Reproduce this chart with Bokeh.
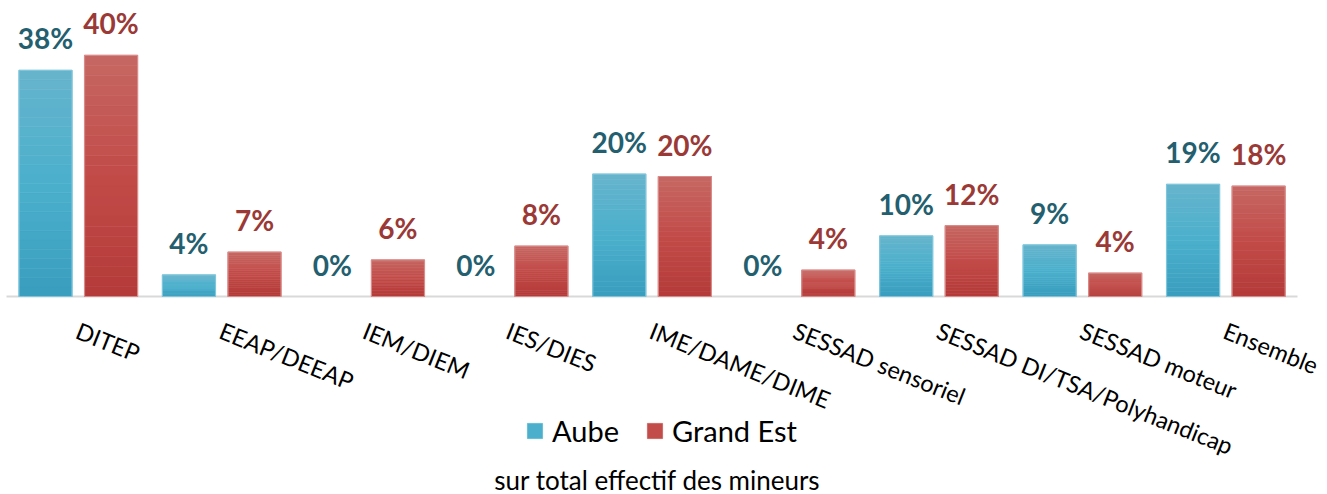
from bokeh.plotting import figure
from bokeh.models import (ColumnDataSource, LabelSet, Label, Legend, LegendItem,
                          FactorRange, Range1d)
from bokeh.core.properties import value
from bokeh.transform import dodge
from bokeh.embed import file_html
from bokeh.resources import INLINE

categories = ["DITEP", "EEAP/DEEAP", "IEM/DIEM", "IES/DIES", "IME/DAME/DIME",
              "SESSAD sensoriel", "SESSAD DI/TSA/Polyhandicap", "SESSAD moteur", "Ensemble"]
aube = [37.7, 3.6, 0.0, 0.0, 20.4, 0.0, 10.1, 8.6, 18.7]
grand_est = [40.2, 7.4, 6.1, 8.4, 20.0, 4.4, 11.8, 3.9, 18.4]
series_names = ["Aube", "Grand Est"]
caption = "sur total effectif des mineurs"

FONT = "Lato"
W, H = 1327, 494
BASE_PX = 296          # baseline position from the top, in pixels
PX_PER_UNIT = 6.0
PAD_PX = 18.0
CAT_PX = (W - 2 * PAD_PX) / len(categories)
SHIFT = -(PAD_PX - 6) / CAT_PX   # horizontal correction (factor units)

p = figure(x_range=FactorRange(*categories, range_padding=PAD_PX / CAT_PX,
                               range_padding_units="absolute"),
           y_range=Range1d(-(H - BASE_PX) / PX_PER_UNIT, BASE_PX / PX_PER_UNIT),
           width=W, height=H, output_backend="svg", toolbar_location=None,
           min_border=0, x_axis_type=None, y_axis_type=None)
p.outline_line_color = None
p.xgrid.visible = False
p.ygrid.visible = False
p.background_fill_color = "white"

def mix(c1, c2, t):
    a = [int(c1[i:i + 2], 16) for i in (1, 3, 5)]
    b = [int(c2[i:i + 2], 16) for i in (1, 3, 5)]
    return "#%02x%02x%02x" % tuple(round(a[k] + (b[k] - a[k]) * t) for k in range(3))

def grad(top, mid, bot, t):
    if t < 0.5:
        return mix(top, mid, t / 0.5)
    return mix(mid, bot, (t - 0.5) / 0.5)

styles = {
    "Aube": dict(vals=aube, off=-0.228 + SHIFT, stops=("#66b4cc", "#4bb0cc", "#399dbe"),
                 edge="#7fc6dc", lab="#245f6f"),
    "Grand Est": dict(vals=grand_est, off=0.229 + SHIFT, stops=("#c66763", "#c24b48", "#b33a38"),
                      edge="#d98b89", lab="#9a3936"),
}

# baseline (category axis line)
base_src = ColumnDataSource(dict(a=[categories[0]], b=[categories[-1]], y=[0]))
p.segment(x0=dodge("a", -0.5 + SHIFT, range=p.x_range), y0="y",
          x1=dodge("b", 0.5 + SHIFT, range=p.x_range), y1="y",
          line_color="#d9d9d9", line_width=2, source=base_src)

N = 24
renderers = {}
for name in series_names:
    st = styles[name]
    xs, bots, tops, cols, alphas = [], [], [], [], []
    for c, v in zip(categories, st["vals"]):
        for k in range(N):
            xs.append(c)
            bots.append(v * k / N)
            tops.append(v * (k + 1) / N)
            cols.append(grad(*st["stops"], 1 - (k + 0.5) / N))
            alphas.append(1.0 if v > 0 else 0.0)
    src = ColumnDataSource(dict(x=xs, bottom=bots, top=tops, color=cols, a=alphas))
    r = p.vbar(x=dodge("x", st["off"], range=p.x_range), bottom="bottom", top="top",
               width=0.37, fill_color="color", line_color="color", line_width=0.6,
               line_alpha="a", source=src)
    renderers[name] = r
    osrc = ColumnDataSource(dict(x=categories, top=st["vals"],
                                 a=[1.0 if v > 0 else 0.0 for v in st["vals"]],
                                 lbl=["%d%%" % round(v) for v in st["vals"]]))
    p.vbar(x=dodge("x", st["off"], range=p.x_range), top="top", bottom=0, width=0.37,
           fill_alpha=0, line_color=st["edge"], line_width=1.2, line_alpha="a",
           source=osrc)
    labels = LabelSet(x=dodge("x", st["off"], range=p.x_range), y="top", text="lbl",
                      source=osrc, y_offset=21, text_align="center",
                      text_baseline="alphabetic", text_font=value(FONT),
                      text_font_style="bold", text_font_size="28px",
                      text_color=st["lab"])
    p.add_layout(labels)

# category labels, rotated
cat_src = ColumnDataSource(dict(x=categories, y=[0] * len(categories), lbl=categories))
cat_labels = LabelSet(x=dodge("x", SHIFT + 0.03, range=p.x_range), y="y", text="lbl",
                      source=cat_src, y_offset=-20, angle=-0.38, text_align="left",
                      text_baseline="top", text_font=value(FONT),
                      text_font_size="23.5px", text_color="#000000")
p.add_layout(cat_labels)

legend = Legend(items=[LegendItem(label=n, renderers=[renderers[n]], index=N // 2)
                       for n in series_names],
                orientation="horizontal", location=(525, 46),
                label_text_font=FONT, label_text_font_size="29px",
                label_text_color="#000000", glyph_width=19, glyph_height=19,
                spacing=26, label_standoff=8, border_line_color=None,
                background_fill_alpha=0, padding=2, margin=0)
p.add_layout(legend)

cap = Label(x=657, y=15, x_units="screen", y_units="screen", text=caption,
            text_align="center", text_baseline="alphabetic", text_font=FONT,
            text_font_size="26px", text_color="#000000")
p.add_layout(cap)

open("out.html", "w").write(file_html(p, INLINE))
